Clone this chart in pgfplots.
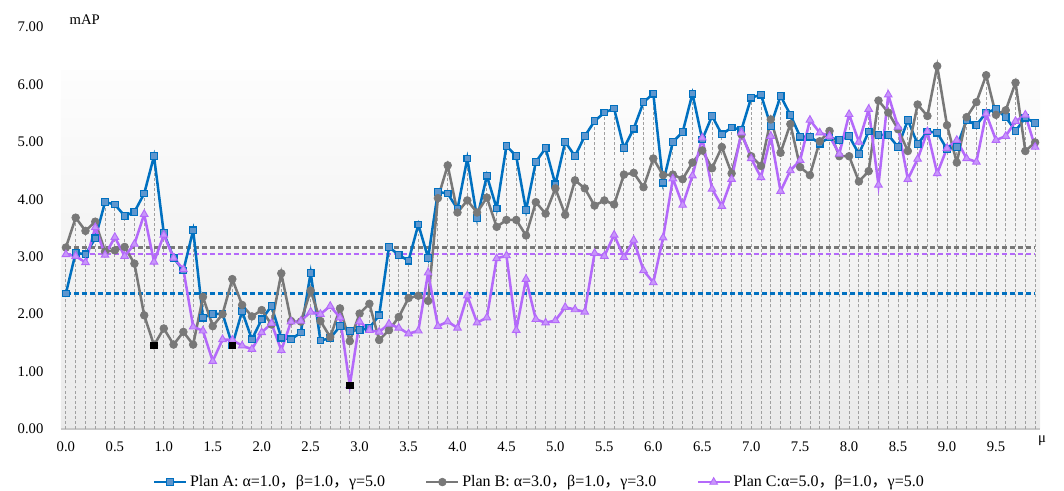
\documentclass[border=0pt]{standalone}
\usepackage{pgfplots}
\pgfplotsset{compat=1.18}
\usepackage{pgfplotstable}
\usepackage{fontspec}
\setmainfont{Liberation Serif}
\newfontfamily\cjk{Noto Sans CJK SC}
\definecolor{cA}{RGB}{0,112,192}
\definecolor{cAf}{RGB}{95,150,205}
\definecolor{cB}{RGB}{120,120,120}
\definecolor{cC}{RGB}{180,105,250}
\definecolor{cCf}{RGB}{200,150,250}
\definecolor{drop}{RGB}{160,160,160}

\pgfplotstableread{
x A B C
0.0 2.36 3.16 3.04
0.1 3.07 3.68 3.01
0.2 3.04 3.45 2.90
0.3 3.32 3.61 3.51
0.4 3.95 3.09 3.03
0.5 3.91 3.11 3.34
0.6 3.71 3.17 3.01
0.7 3.78 2.88 3.22
0.8 4.10 1.98 3.74
0.9 4.75 1.46 2.91
1.0 3.41 1.75 3.38
1.1 2.98 1.47 2.98
1.2 2.76 1.69 2.78
1.3 3.46 1.47 1.78
1.4 1.94 2.30 1.71
1.5 2.00 1.79 1.18
1.6 2.01 2.00 1.56
1.7 1.46 2.61 1.55
1.8 2.05 2.16 1.45
1.9 1.56 1.96 1.39
2.0 1.91 2.07 1.68
2.1 2.14 1.82 1.84
2.2 1.59 2.71 1.37
2.3 1.56 1.88 1.87
2.4 1.68 1.87 1.88
2.5 2.72 2.41 2.04
2.6 1.54 1.88 2.00
2.7 1.58 1.60 2.14
2.8 1.79 2.10 1.94
2.9 1.71 1.53 0.76
3.0 1.72 2.01 1.87
3.1 1.76 2.18 1.72
3.2 1.98 1.55 1.69
3.3 3.17 1.72 1.83
3.4 3.03 1.95 1.76
3.5 2.93 2.28 1.66
3.6 3.56 2.32 1.71
3.7 2.98 2.23 2.72
3.8 4.13 4.02 1.79
3.9 4.10 4.59 1.87
4.0 3.83 3.77 1.76
4.1 4.71 3.98 2.32
4.2 3.67 3.77 1.85
4.3 4.41 4.03 1.94
4.4 3.84 3.52 2.97
4.5 4.93 3.64 3.02
4.6 4.75 3.64 1.72
4.7 3.81 3.37 2.61
4.8 4.65 3.95 1.91
4.9 4.89 3.75 1.85
5.0 4.26 4.19 1.89
5.1 5.00 3.73 2.12
5.2 4.75 4.33 2.08
5.3 5.10 4.19 2.04
5.4 5.36 3.89 3.06
5.5 5.51 3.98 3.01
5.6 5.58 3.91 3.38
5.7 4.89 4.43 2.99
5.8 5.23 4.46 3.29
5.9 5.69 4.21 2.76
6.0 5.84 4.71 2.55
6.1 4.29 4.42 3.33
6.2 5.00 4.43 4.36
6.3 5.17 4.35 3.90
6.4 5.84 4.64 4.41
6.5 5.04 4.85 5.07
6.6 5.45 4.54 4.18
6.7 5.13 4.91 3.88
6.8 5.25 4.45 4.35
6.9 5.21 5.13 5.16
7.0 5.77 4.75 4.71
7.1 5.82 4.58 4.38
7.2 5.28 5.39 5.10
7.3 5.80 4.81 4.14
7.4 5.47 5.31 4.50
7.5 5.09 4.56 4.68
7.6 5.09 4.42 5.38
7.7 4.97 5.01 5.16
7.8 5.08 5.19 5.10
7.9 5.03 4.75 4.79
8.0 5.10 4.75 5.48
8.1 4.79 4.31 5.00
8.2 5.18 4.49 5.57
8.3 5.12 5.72 4.25
8.4 5.12 5.51 5.82
8.5 4.91 5.22 5.26
8.6 5.38 4.84 4.35
8.7 4.96 5.65 4.70
8.8 5.18 5.45 5.18
8.9 5.16 6.32 4.45
9.0 4.87 5.29 4.89
9.1 4.91 4.64 5.03
9.2 5.38 5.43 4.71
9.3 5.29 5.69 4.65
9.4 5.51 6.16 5.49
9.5 5.57 5.47 5.03
9.6 5.43 5.55 5.10
9.7 5.19 6.03 5.36
9.8 5.42 4.84 5.47
9.9 5.33 4.99 4.91
}\data

\begin{document}
\begin{tikzpicture}
\useasboundingbox (-45.75pt,-46.5pt) rectangle (752.25pt,321.75pt);
\begin{axis}[
  at={(0,0)}, anchor=south west,
  scale only axis, width=734.25pt, height=301.5pt,
  xmin=-0.05, xmax=9.95, ymin=0, ymax=7,
  axis line style={draw=none},
  major tick length=0pt,
  xtick={0,0.5,1,1.5,2,2.5,3,3.5,4,4.5,5,5.5,6,6.5,7,7.5,8,8.5,9,9.5},
  ytick={0,1,2,3,4,5,6,7},
  font=\fontsize{11}{13}\selectfont,
  ticklabel style={font=\fontsize{11}{13}\selectfont},
  /pgf/number format/assume math mode=true,
  xticklabel style={/pgf/number format/.cd, fixed, fixed zerofill, precision=1, /tikz/.cd, yshift=-6pt},
  yticklabel style={/pgf/number format/.cd, fixed, fixed zerofill, precision=2, /tikz/.cd, xshift=-9.7pt},
  every axis y label/.style={at={(rel axis cs:0,1)}, anchor=south west, xshift=3pt, yshift=-2pt},
  ylabel={mAP},
  every axis x label/.style={at={(rel axis cs:1,0)}, anchor=center, xshift=1.5pt, yshift=-9pt},
  xlabel={μ},
  legend columns=3,
  legend style={at={(0.489,-0.132)}, anchor=center, draw=none, fill=none,
    font=\fontsize{12}{14}\selectfont,
    /tikz/every even column/.append style={column sep=28pt}},
  legend image code/.code={\draw[mark repeat=2,mark phase=2] plot coordinates {(0cm,0cm) (0.42cm,0cm) (0.84cm,0cm)};},
  clip=false,
]
\fill[bottom color={rgb,255:red,234;green,234;blue,234}, top color={rgb,255:red,253;green,253;blue,253}]
  (axis cs:-0.05,0) rectangle (axis cs:9.95,6.24);
\draw[color={rgb,255:red,200;green,200;blue,200}, line width=0.8pt] (axis cs:-0.05,0) -- (axis cs:9.95,0);

\addplot[forget plot, ycomb, no marks, drop, line width=0.65pt, dash pattern=on 2.2pt off 1.6pt] table[x=x,y=A]{\data};
\addplot[forget plot, ycomb, no marks, drop, line width=0.65pt, dash pattern=on 2.2pt off 1.6pt] table[x=x,y=B]{\data};
\addplot[forget plot, ycomb, no marks, drop, line width=0.65pt, dash pattern=on 2.2pt off 1.6pt] table[x=x,y=C]{\data};

\addplot[forget plot, no marks, draw=cA, line width=1.6pt, dash pattern=on 3.5pt off 2.5pt] coordinates {(0,2.36) (9.9,2.36)};
\addplot[forget plot, no marks, draw=cB, line width=1.6pt, dash pattern=on 3.5pt off 2.5pt] coordinates {(0,3.16) (9.9,3.16)};
\addplot[forget plot, no marks, draw=cC, line width=1.6pt, dash pattern=on 3.5pt off 2.5pt] coordinates {(0,3.04) (9.9,3.04)};

\addplot[cA, line width=1.9pt, mark=square*, mark size=2.5pt, mark options={solid, fill=cAf, draw=cA, line width=0.9pt}] table[x=x,y=A]{\data};
\addlegendentry{Plan A: α=1.0{\cjk ，}β=1.0{\cjk ，}γ=5.0}
\addplot[cB, line width=1.9pt, mark=*, mark size=2.9pt, mark options={solid, fill=cB, draw=cB, line width=0.5pt}] table[x=x,y=B]{\data};
\addlegendentry{Plan B: α=3.0{\cjk ，}β=1.0{\cjk ，}γ=3.0}
\addplot[cC, line width=1.9pt, mark=triangle*, mark size=3.3pt, mark options={solid, fill=cCf, draw=cC, line width=0.7pt}] table[x=x,y=C]{\data};
\addlegendentry{Plan C:α=5.0{\cjk ，}β=1.0{\cjk ，}γ=5.0}

\addplot[forget plot, only marks, mark=square*, mark size=2.5pt, black] coordinates {(0.9,1.46) (1.7,1.46) (2.9,0.76)};
\end{axis}
\end{tikzpicture}
\end{document}
